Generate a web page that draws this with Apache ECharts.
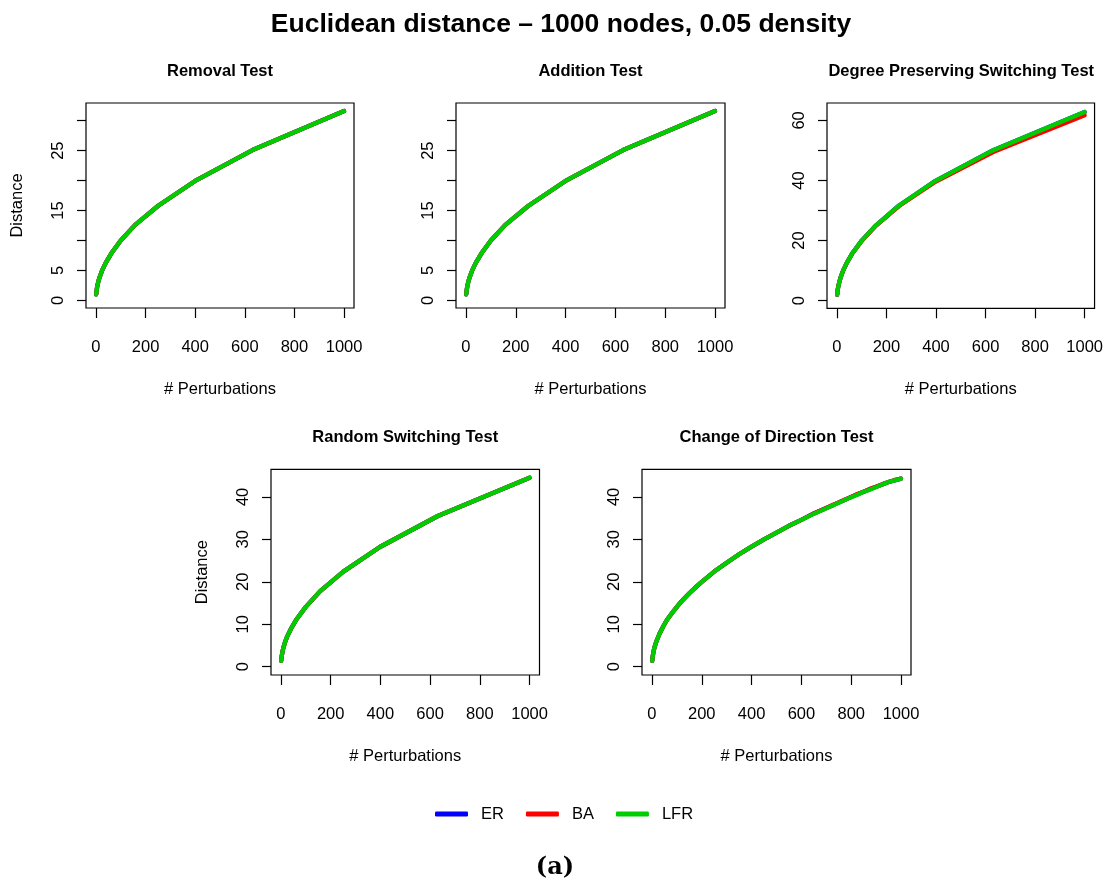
<!DOCTYPE html>
<html>
<head>
<meta charset="utf-8">
<script src="https://cdn.jsdelivr.net/npm/echarts@6/dist/echarts.min.js"></script>
<style>
html,body{margin:0;padding:0;background:#fff;}
#chart{width:1106px;height:881px;}
</style>
</head>
<body>
<div id="chart"></div>
<script>
// ---------- data ----------
const seriesNames = ['ER', 'BA', 'LFR'];
const panelTitles = ['Removal Test', 'Addition Test', 'Degree Preserving Switching Test', 'Random Switching Test', 'Change of Direction Test'];
const mainTitle = 'Euclidean distance \u2013 1000 nodes, 0.05 density';
const xAxisTitle = '# Perturbations';
const yAxisTitle = 'Distance';
const subCaption = '(a)';

const xTicks = [0, 200, 400, 600, 800, 1000];
const yTicks30 = [0, 5, 10, 15, 20, 25, 30];
const yLabels30 = [0, 5, 15, 25];
const yTicks60 = [0, 10, 20, 30, 40, 50, 60];
const yLabels60 = [0, 20, 40, 60];
const yTicks40 = [0, 10, 20, 30, 40];
const yLabels40 = [0, 10, 20, 30, 40];

// perturbation counts (sampled)
const xSteps = [1, 2, 3, 4, 6, 10, 16, 25, 40, 63, 100, 158, 251, 398, 631, 1000];

const removalER  = [1.0, 1.4, 1.7, 2.0, 2.5, 3.2, 4.0, 5.0, 6.3, 7.9, 10.0, 12.6, 15.8, 19.9, 25.1, 31.6];
const removalBA  = [1.0, 1.4, 1.7, 2.0, 2.5, 3.2, 4.0, 5.0, 6.3, 7.9, 10.0, 12.6, 15.8, 19.9, 25.1, 31.6];
const removalLFR = [1.0, 1.4, 1.7, 2.0, 2.5, 3.2, 4.0, 5.0, 6.3, 7.9, 10.0, 12.6, 15.8, 19.9, 25.1, 31.6];

const additionER  = [1.0, 1.4, 1.7, 2.0, 2.5, 3.2, 4.0, 5.0, 6.3, 7.9, 10.0, 12.6, 15.8, 19.9, 25.1, 31.6];
const additionBA  = [1.0, 1.4, 1.7, 2.0, 2.5, 3.2, 4.0, 5.0, 6.3, 7.9, 10.0, 12.6, 15.8, 19.9, 25.1, 31.6];
const additionLFR = [1.0, 1.4, 1.7, 2.0, 2.5, 3.2, 4.0, 5.0, 6.3, 7.9, 10.0, 12.6, 15.8, 19.9, 25.1, 31.6];

const degreeER  = [2.0, 2.8, 3.5, 4.0, 4.9, 6.3, 8.0, 10.0, 12.6, 15.9, 20.0, 25.1, 31.7, 39.9, 50.1, 62.8];
const degreeBA  = [2.0, 2.8, 3.5, 4.0, 4.9, 6.3, 8.0, 10.0, 12.6, 15.8, 19.9, 25.0, 31.5, 39.6, 49.5, 61.7];
const degreeLFR = [2.0, 2.8, 3.5, 4.0, 4.9, 6.3, 8.0, 10.0, 12.6, 15.9, 20.0, 25.1, 31.7, 39.9, 50.1, 62.8];

const randomER  = [1.4, 2.0, 2.4, 2.8, 3.5, 4.5, 5.7, 7.1, 8.9, 11.2, 14.1, 17.8, 22.4, 28.2, 35.5, 44.5];
const randomBA  = [1.4, 2.0, 2.4, 2.8, 3.5, 4.5, 5.7, 7.1, 8.9, 11.2, 14.1, 17.8, 22.4, 28.2, 35.5, 44.5];
const randomLFR = [1.4, 2.0, 2.4, 2.8, 3.5, 4.5, 5.7, 7.1, 8.9, 11.2, 14.1, 17.8, 22.4, 28.2, 35.5, 44.5];

const xDirection = [1, 2, 4, 6, 10, 15, 20, 30, 40, 50, 60, 80, 100, 120, 150, 175, 200, 250, 300, 350, 400, 450, 500, 550, 600, 650, 700, 725, 750, 775, 800, 825, 850, 875, 900, 925, 950, 975, 1000];
const directionER  = [1.4, 2.0, 2.8, 3.5, 4.5, 5.5, 6.3, 7.7, 8.9, 10.0, 11.0, 12.6, 14.1, 15.5, 17.3, 18.7, 20.0, 22.4, 24.5, 26.5, 28.3, 30.0, 31.6, 33.2, 34.6, 36.1, 37.4, 38.0, 38.7, 39.3, 40.0, 40.6, 41.2, 41.8, 42.4, 42.9, 43.5, 43.9, 44.3];
const directionBA  = [1.4, 2.0, 2.8, 3.5, 4.5, 5.5, 6.3, 7.7, 8.9, 10.0, 11.0, 12.6, 14.1, 15.5, 17.3, 18.7, 20.0, 22.4, 24.5, 26.5, 28.3, 30.0, 31.6, 33.2, 34.6, 36.1, 37.4, 38.1, 38.7, 39.4, 40.0, 40.7, 41.2, 41.9, 42.4, 43.0, 43.5, 44.0, 44.3];
const directionLFR = [1.4, 2.0, 2.8, 3.5, 4.5, 5.5, 6.3, 7.7, 8.9, 10.0, 11.0, 12.6, 14.1, 15.5, 17.3, 18.7, 20.0, 22.4, 24.5, 26.5, 28.3, 30.0, 31.6, 33.2, 34.6, 36.0, 37.3, 38.0, 38.6, 39.3, 39.9, 40.5, 41.2, 41.7, 42.3, 42.9, 43.5, 43.9, 44.3];

// ---------- layout / style ----------
const FONT = '"Liberation Sans", Arial, Helvetica, sans-serif';
const colors = { ER: '#0000FF', BA: '#FF0000', LFR: '#00CD00' };

const panels = [
  { box: [86, 103, 268, 205], y: [-1.27, 32.95], yTicks: yTicks30, yLabels: yLabels30, showYName: true,
    xs: [xSteps, xSteps, xSteps], ys: [removalER, removalBA, removalLFR] },
  { box: [456, 103, 269, 205], y: [-1.27, 32.95], yTicks: yTicks30, yLabels: yLabels30, showYName: false,
    xs: [xSteps, xSteps, xSteps], ys: [additionER, additionBA, additionLFR] },
  { box: [827, 103, 268.5, 205.3], y: [-2.53, 65.8], yTicks: yTicks60, yLabels: yLabels60, showYName: false,
    xs: [xSteps, xSteps, xSteps], ys: [degreeER, degreeBA, degreeLFR] },
  { box: [271, 469.3, 268.5, 205.7], y: [-1.95, 46.5], yTicks: yTicks40, yLabels: yLabels40, showYName: true,
    xs: [xSteps, xSteps, xSteps], ys: [randomER, randomBA, randomLFR] },
  { box: [642, 469.3, 269, 205.7], y: [-1.95, 46.5], yTicks: yTicks40, yLabels: yLabels40, showYName: false,
    xs: [xDirection, xDirection, xDirection], ys: [directionER, directionBA, directionLFR] }
];

function zip(xs, ys) { return xs.map((x, i) => [x, ys[i]]); }
const plain = v => String(v);

const grid = [], xAxis = [], yAxis = [], series = [], graphic = [];

panels.forEach((p, i) => {
  const [l, t, w, h] = p.box;
  grid.push({ left: l, top: t, width: w, height: h, show: true, borderColor: '#000', borderWidth: 1.2, backgroundColor: 'transparent' });
  xAxis.push({
    type: 'value', gridIndex: i, min: -40, max: 1040,
    axisLine: { show: false, onZero: false }, splitLine: { show: false },
    axisTick: { show: true, inside: false, length: 10, customValues: xTicks, lineStyle: { color: '#000', width: 1.2 } },
    axisLabel: { customValues: xTicks, formatter: plain, fontSize: 16.5, color: '#000', fontFamily: FONT, margin: 31 },
    name: xAxisTitle, nameLocation: 'middle', nameGap: 73,
    nameTextStyle: { fontSize: 16.5, color: '#000', fontFamily: FONT }
  });
  yAxis.push({
    type: 'value', gridIndex: i, min: p.y[0], max: p.y[1],
    axisLine: { show: false, onZero: false }, splitLine: { show: false },
    axisTick: { show: true, inside: false, length: 9, customValues: p.yTicks, lineStyle: { color: '#000', width: 1.2 } },
    axisLabel: { customValues: p.yLabels, formatter: plain, rotate: 90, fontSize: 16.5, color: '#000', fontFamily: FONT, margin: 19 },
    name: p.showYName ? yAxisTitle : '', nameLocation: 'middle', nameGap: 60,
    nameTextStyle: { fontSize: 16.5, color: '#000', fontFamily: FONT }
  });
  seriesNames.forEach((nm, k) => {
    series.push({
      type: 'line', name: nm, xAxisIndex: i, yAxisIndex: i,
      data: zip(p.xs[k], p.ys[k]),
      showSymbol: false, symbol: 'none', color: colors[nm],
      lineStyle: { color: colors[nm], width: 4.3, cap: 'round', join: 'round' },
      z: 2 + k, silent: true
    });
  });
  graphic.push({
    type: 'text', x: l + w / 2, y: i < 3 ? 71 : 437.5,
    style: { text: panelTitles[i], fontSize: 16.5, fontWeight: 'bold', fontFamily: FONT, fill: '#000',
      align: 'center', verticalAlign: 'middle', textAlign: 'center', textVerticalAlign: 'middle' }
  });
});

graphic.push({
  type: 'text', x: 561, y: 25,
  style: { text: mainTitle, fontSize: 26.5, fontWeight: 'bold', fontFamily: FONT, fill: '#000',
    align: 'center', verticalAlign: 'middle', textAlign: 'center', textVerticalAlign: 'middle' }
});
graphic.push({
  type: 'text', x: 555, y: 868,
  style: { text: subCaption, fontSize: 24, fontWeight: 'bold', fontFamily: '"DejaVu Serif", serif', fill: '#000',
    align: 'center', verticalAlign: 'middle', textAlign: 'center', textVerticalAlign: 'middle' }
});

const option = {
  animation: false,
  backgroundColor: '#fff',
  grid, xAxis, yAxis, series, graphic,
  legend: {
    data: seriesNames, left: 435, top: 805.5, padding: 0,
    itemWidth: 33, itemHeight: 5, itemGap: 22, icon: 'roundRect',
    textStyle: { fontSize: 16.5, color: '#000', fontFamily: FONT, padding: [0, 0, 0, 8] }
  }
};

const chart = echarts.init(document.getElementById('chart'), null, { renderer: 'canvas' });
chart.setOption(option);
</script>
</body>
</html>
